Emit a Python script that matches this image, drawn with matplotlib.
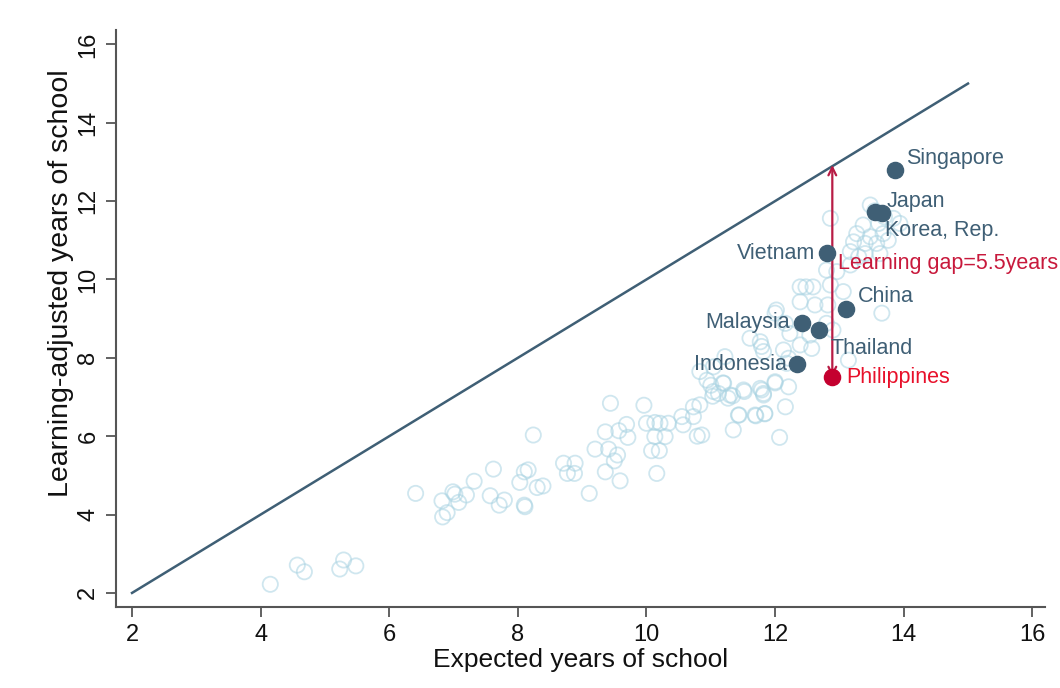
import matplotlib
matplotlib.use("Agg")
import matplotlib.pyplot as plt

# Background countries (hollow circles): expected years, learning-adjusted years
other_x = [4.15, 4.57, 4.68, 5.23, 5.29, 5.48,
           6.41, 6.82, 6.99, 7.02, 7.08, 7.20, 7.32, 6.90, 6.83, 7.62, 7.57, 7.71, 7.79,
           8.10, 8.16, 8.03, 8.10, 8.11, 8.30, 8.39, 8.24,
           9.44, 9.96, 9.36, 9.57, 9.69, 9.71, 9.20, 9.41, 9.55, 9.50, 8.71, 8.89, 8.77, 8.88,
           9.36, 9.59, 9.11, 10.00, 10.13, 10.21, 10.34, 10.13, 10.29, 10.08, 10.20, 10.16,
           10.55, 10.57, 10.73, 10.73, 10.83, 10.79, 11.00, 11.19, 11.03, 11.12, 11.27, 11.34,
           11.52, 11.79, 11.82, 12.00, 11.44, 11.35, 11.70, 11.84, 12.07,
           12.39, 12.59, 12.86, 13.06, 12.39, 12.62, 12.82, 13.66, 12.02, 12.00, 12.16, 12.80,
           12.90, 12.54, 12.23, 11.61, 11.77, 11.79, 11.82, 12.13, 12.39, 12.57, 12.21, 12.18,
           13.14, 11.22, 11.04, 10.83, 10.94, 11.20, 11.04, 11.30, 11.51, 11.77, 12.00, 12.21,
           11.82, 12.16, 11.43, 11.69, 11.84, 10.86,
           12.86, 13.48, 13.37, 13.61, 13.84, 13.94, 13.27, 13.48, 13.68, 13.22, 13.40, 13.58,
           13.76, 13.17, 13.30, 13.40, 13.63, 13.17, 12.96, 12.80, 12.48, 13.55, 13.70]
other_y = [2.22, 2.71, 2.54, 2.61, 2.84, 2.69,
           4.54, 4.35, 4.58, 4.52, 4.31, 4.50, 4.85, 4.05, 3.94, 5.16, 4.48, 4.24, 4.37,
           5.09, 5.14, 4.82, 4.24, 4.20, 4.69, 4.73, 6.03,
           6.84, 6.79, 6.11, 6.14, 6.30, 5.97, 5.67, 5.67, 5.52, 5.37, 5.31, 5.31, 5.05, 5.05,
           5.09, 4.86, 4.54, 6.33, 6.35, 6.33, 6.33, 5.99, 5.99, 5.63, 5.63, 5.05,
           6.50, 6.29, 6.50, 6.75, 6.80, 6.00, 7.30, 7.36, 7.02, 7.09, 6.97, 7.03,
           7.14, 7.18, 7.05, 7.36, 6.54, 6.16, 6.52, 6.57, 5.97,
           9.81, 9.81, 9.86, 9.69, 9.43, 9.35, 9.35, 9.14, 9.22, 9.14, 8.88, 8.88,
           8.71, 8.58, 8.62, 8.50, 8.41, 8.29, 8.16, 8.20, 8.33, 8.24, 7.99, 7.86,
           7.94, 8.03, 7.77, 7.65, 7.43, 7.35, 7.14, 7.05, 7.18, 7.22, 7.39, 7.26,
           7.09, 6.75, 6.54, 6.54, 6.58, 6.03,
           11.56, 11.90, 11.39, 11.43, 11.56, 11.43, 11.17, 11.09, 11.17, 10.96, 10.92, 10.92,
           11.00, 10.71, 10.58, 10.66, 10.66, 10.37, 10.20, 10.24, 9.81, 11.75, 11.60]

# Highlighted East Asian countries
hl_names = ["Singapore", "Japan", "Korea, Rep.", "Vietnam", "China",
            "Malaysia", "Thailand", "Indonesia"]
hl_x = [13.87, 13.55, 13.66, 12.81, 13.10, 12.42, 12.68, 12.34]
hl_y = [12.79, 11.72, 11.70, 10.67, 9.24, 8.89, 8.71, 7.84]

phl_name = "Philippines"
phl_x = 12.89
phl_y = 7.51
gap_label = "Learning gap=5.5years"

line_x = [2, 15]
line_y = [2, 15]

x_ticks = [2, 4, 6, 8, 10, 12, 14, 16]
y_ticks = [2, 4, 6, 8, 10, 12, 14, 16]

sans = ["Liberation Sans", "DejaVu Sans"]

fig = plt.figure(figsize=(10.6, 6.88), dpi=100)
ax = fig.add_axes([0.1094, 0.1177, 0.8766, 0.8383])

dark = "#3f5f75"
ax.plot(line_x, line_y, color=dark, lw=1.8, zorder=2)
ax.scatter(other_x, other_y, s=120, facecolors="none", edgecolors="#a9d3e2",
           linewidths=1.3, alpha=0.55, zorder=1)
ax.scatter(hl_x, hl_y, s=135, color=dark, zorder=4)
ax.scatter([phl_x], [phl_y], s=135, color="#c4002f", zorder=4)

# gap arrow from Philippines up to the 45-degree line
ax.annotate("", xy=(phl_x, phl_x + 0.03), xytext=(phl_x, phl_y),
            arrowprops=dict(arrowstyle="<->", color="#b81c45", lw=1.6,
                            shrinkA=0, shrinkB=0, mutation_scale=14), zorder=3)

fs = 15.5
offs = {
    "Singapore": (0.17, 0.30, "left"),
    "Japan": (0.19, 0.28, "left"),
    "Korea, Rep.": (0.05, -0.46, "left"),
    "Vietnam": (-0.19, 0.0, "right"),
    "China": (0.18, 0.33, "left"),
    "Malaysia": (-0.19, 0.0, "right"),
    "Thailand": (0.18, -0.46, "left"),
    "Indonesia": (-0.15, -0.02, "right"),
}
for n, x, y in zip(hl_names, hl_x, hl_y):
    dx, dy, ha = offs[n]
    ax.text(x + dx, y + dy, n, ha=ha, va="center", fontsize=fs,
            color=dark, family=sans, zorder=5)
ax.text(phl_x + 0.21, phl_y - 0.02, phl_name, ha="left", va="center", fontsize=fs,
        color="#e8102a", family=sans, zorder=5)
ax.text(phl_x + 0.09, 10.42, gap_label, ha="left", va="center", fontsize=fs,
        color="#c8193c", family=sans, zorder=5)

ax.set_xlim(1.75, 16.2)
ax.set_ylim(1.64, 16.36)
ax.set_xticks(x_ticks)
ax.set_yticks(y_ticks)
ax.set_xticklabels([str(t) for t in x_ticks], family=sans, fontsize=17)
ax.set_yticklabels([str(t) for t in y_ticks], family=sans, fontsize=17,
                   rotation=90, va="center")
for s in ["top", "right"]:
    ax.spines[s].set_visible(False)
for s in ["left", "bottom"]:
    ax.spines[s].set_color("#555555")
    ax.spines[s].set_linewidth(1.5)
ax.tick_params(axis="both", direction="out", length=7, width=1.3, color="#555555",
               labelcolor="#111111", pad=5)
ax.set_xlabel("Expected years of school", family=sans, fontsize=19,
              color="#111111", labelpad=2)
ax.set_ylabel("Learning-adjusted years of school", family=sans, fontsize=20.5,
              color="#111111")
ax.yaxis.set_label_coords(-0.045, 0.5615)

fig.savefig("out.png", dpi=100, facecolor="white")
